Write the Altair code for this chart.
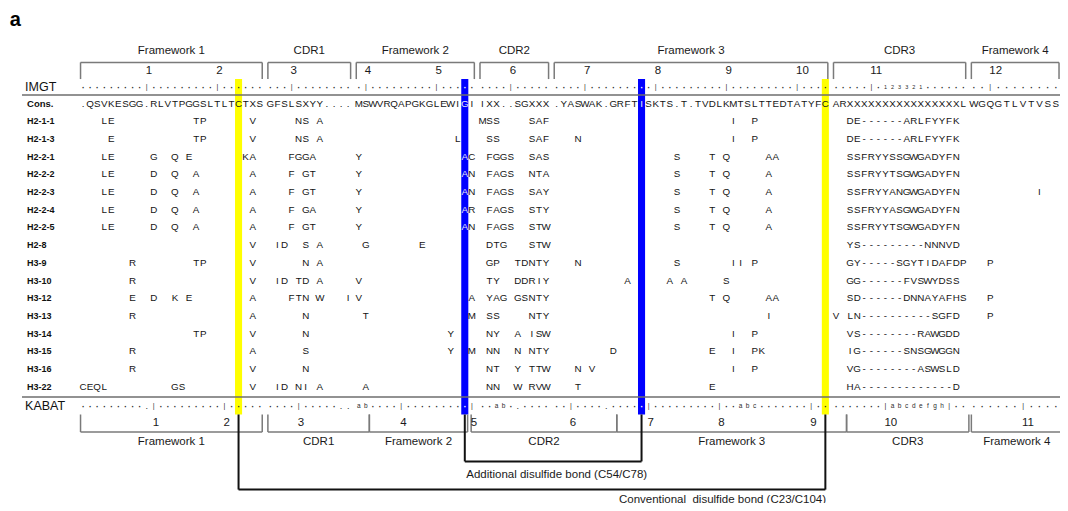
import altair as alt
import pandas as pd

# ---------------- data ----------------
REGION_NAMES = ["Framework 1", "CDR1", "Framework 2", "CDR2", "Framework 3", "CDR3", "Framework 4"]
IMGT_START = [1, 27, 39, 56, 66, 105, 118]

CONS = [".QSVKESGG.RLVTPGGSLTLTCTXS", "GFSLSXYY....", "MSWVRQAPGKGLEWIGI",
        "IXX..SGXXX", ".YASWAK.GRFTISKTS.T.TVDLKMTSLTTEDTATYFC",
        "ARXXXXXXXXXXXXXXXXL", "WGQGTLVTVSS"]

IMGT_MARKS = ["·········|·········|······", "···|········", "·|·········|·····",
              "····|·····", "····|·········|·········|·········|····",
              "·····|·123321······", "··|········"]
KABAT_MARKS = ["·········.|·········|·····", "····|·····..", "ab····|·········|",
               "··ab·.····", "··|····.·····|·········|··abc·······|··",
               "·······|abcdefgh|··", "······|····"]

ROW_NAMES = ["H2-1-1", "H2-1-3", "H2-2-1", "H2-2-2", "H2-2-3", "H2-2-4", "H2-2-5", "H2-8",
             "H3-9", "H3-10", "H3-12", "H3-13", "H3-14", "H3-15", "H3-16", "H3-22"]
# substitutions relative to Cons.: "IMGT position:residues"
ROW_SUBS = [
    "4:LE 17:TP 25:V 31:NS 34:A 56:MSS 63:SAF 91:I 94:P",
    "5:E 17:TP 25:V 31:NS 34:A 53:L 57:SS 63:SAF 69:N 91:I 94:P",
    "4:LE 11:G 14:Q 16:E 24:KA 30:FGGA 39:Y 54:AC 57:FGGS 63:SAS 83:S 88:T 90:Q 96:AA",
    "4:LE 11:D 14:Q 17:A 25:A 30:F 32:GT 39:Y 54:AN 57:FAGS 63:NTA 83:S 88:T 90:Q 96:A",
    "4:LE 11:D 14:Q 17:A 25:A 30:F 32:GT 39:Y 54:AN 57:FAGS 63:SAY 83:S 88:T 90:Q 96:A 126:I",
    "4:LE 11:D 14:Q 17:A 25:A 30:F 32:GA 39:Y 54:AR 57:FAGS 63:STY 83:S 88:T 90:Q 96:A",
    "4:LE 11:D 14:Q 17:A 25:A 30:F 32:GT 39:Y 54:AN 57:FAGS 63:STW 83:S 88:T 90:Q 96:A",
    "25:V 28:ID 32:S 34:A 40:G 48:E 57:DTG 63:STW",
    "8:R 17:TP 25:V 32:N 34:A 57:GP 61:TDNTY 69:N 83:S 91:II 94:P 120:P",
    "8:R 25:V 28:ID 31:TD 34:A 39:V 57:TY 61:DDRIY 76:A 82:A 84:A 90:S",
    "8:E 11:D 14:K 16:E 25:A 30:FTN 34:W 38:IV 55:A 57:YAG 61:GSNTY 88:T 90:Q 96:AA 120:P",
    "8:R 25:A 32:N 40:T 55:M 57:SS 63:NTY 96:I 120:P",
    "17:TP 25:V 32:N 52:Y 57:NY 61:A 63:ISW 91:I 94:P",
    "8:R 25:A 32:S 52:Y 55:M 57:NN 61:N 63:NTY 74:D 88:E 91:I 94:PK",
    "8:R 25:V 32:N 57:NT 61:Y 63:TTW 69:N 71:V 91:I 94:P",
    "1:CEQL 14:GS 25:V 28:ID 31:NI 34:A 40:A 57:NN 61:W 63:RVW 69:T 88:E",
]
ROW_CDR3 = [
    "  DE------ARLFYYFK", "  DE------ARLFYYFK", "  SSFRYYSSGWGADYFN", "  SSFRYYTSGWGADYFN",
    "  SSFRYYANGWGADYFN", "  SSFRYYASGWGADYFN", "  SSFRYYTSGWGADYFN", "  YS---------NNNVD",
    "  GY-----SGYTIDAFDP", "  GG------FVSWYDSS", "  SD------DNNAYAFHS", "V LN----------SGFD",
    "  VS--------RAWGDD", "  IG------SNSGWGGN", "  VG--------ASWSLD", "  HA-------------D",
]
YELLOW_POS = [23, 104]   # conventional disulfide bond
BLUE_POS = [54, 78]      # additional disulfide bond
BOND_LABELS = ["Conventional\u00a0 disulfide bond (C23/C104)", "Additional disulfide bond (C54/C78)"]
KABAT_SPANS = [((0, 0), (0, 25)), ((1, 0), (2, 1)), ((2, 2), (2, 15)), ((2, 16), (4, 8)),
               ((4, 9), (5, 1)), ((5, 2), (5, 18)), ((6, 0), (6, 10))]

# ---------------- layout ----------------
W, H = 1052, 495
PX_COL = 7.07
PX_ROW = 17.71
XS = alt.Scale(domain=[-9.61, -9.61 + W / PX_COL], nice=False, zero=False)
Y0 = -(103.5 - 8) / PX_ROW
YS = alt.Scale(domain=[Y0, Y0 + H / PX_ROW], nice=False, zero=False, reverse=True)
FONT = "Liberation Sans"
DARK = "#141414"
LIGHT = "#e8e8f4"

PITCH = [1, 1, 1, 1, 1, 1, 1.16]
GAP = 0.5
starts = []
_c = 1.0
for _r, _s in enumerate(CONS):
    starts.append(_c)
    _c += (len(_s) - 1) * PITCH[_r] + 1 + GAP


def col(r, i):
    return starts[r] + i * PITCH[r]


def locate(pos):
    if pos >= IMGT_START[6]:
        return 6, pos - IMGT_START[6]
    r = max(k for k in range(5) if IMGT_START[k] <= pos)
    return r, pos - IMGT_START[r]


blue_cols = [col(*locate(p)) for p in BLUE_POS]
yellow_cols = [col(*locate(p)) for p in YELLOW_POS]


def shade(x):
    return LIGHT if any(abs(x - b) < 1e-6 for b in blue_cols) else DARK


# row-unit positions of the decorations
Y_TITLE, Y_HLAB, Y_BTOP, Y_HNUM, Y_BBOT, Y_IMGT, Y_L1 = -4.74, -2.95, -2.32, -1.84, -1.38, -0.95, -0.48
Y_L2, Y_KAB, Y_KTOP, Y_KNUM, Y_KLINE, Y_KLAB = 16.57, 17.08, 17.56, 18.04, 18.55, 19.11
Y_ADD, Y_ADDL, Y_CONV, Y_CONVL = 20.21, 20.98, 21.80, 22.38
X_LABEL = -6.92
SEQ_FS = 9.8

# ---------------- build tables ----------------
seq = []   # residues


def add(lst, x, y, t, fs, c):
    lst.append(dict(x=x, y=y, t=t, fs=fs, c=c))


for r, s in enumerate(CONS):
    for i, ch in enumerate(s):
        x = col(r, i)
        add(seq, x, 0, ch, SEQ_FS, shade(x))

for k, name in enumerate(ROW_NAMES):
    y = k + 1
    for tok in ROW_SUBS[k].split():
        p, res = tok.split(":")
        for j, ch in enumerate(res):
            x = col(*locate(int(p) + j))
            add(seq, x, y, ch, SEQ_FS, shade(x))
    for i, ch in enumerate(ROW_CDR3[k]):
        if ch != " ":
            add(seq, col(5, i), y, ch, SEQ_FS, DARK)

# dotted numbering rows
marks = []
for yy, rows in [(Y_IMGT, IMGT_MARKS), (Y_KAB, KABAT_MARKS)]:
    for r, s in enumerate(rows):
        for i, ch in enumerate(s):
            x = col(r, i)
            if ch == "·":
                fs = 12.5
            elif ch == "|":
                fs = 7
            elif ch == ".":
                fs = 9
            elif ch.isdigit():
                fs = 5.5
            else:
                fs = 6.5
            c = "#ffffff" if shade(x) == LIGHT else "#2a2a2a"
            add(marks, x, yy, ch, fs, c)

# tick numbers
nums = []
n = 0
for r, s in enumerate(IMGT_MARKS):
    for i, ch in enumerate(s):
        if ch == "|":
            n += 1
            add(nums, col(r, i), Y_HNUM, str(n), 11.5, "#1a1a1a")
n = 0
for r, s in enumerate(KABAT_MARKS):
    for i, ch in enumerate(s):
        if ch == "|" and not (i > 0 and s[i - 1].isalpha()):
            n += 1
            add(nums, col(r, i), Y_KNUM, str(n), 11.5, "#1a1a1a")

# region labels and brackets
labels = []
segs = []
for r, s in enumerate(CONS):
    L = col(r, 0) - 0.35
    R = col(r, len(s) - 1) + (0.45 if r == 6 else 0.35)
    add(labels, (L + R) / 2, Y_HLAB, REGION_NAMES[r], 11.5, "#1a1a1a")
    segs += [dict(x=L, x2=R, y=Y_BTOP, y2=Y_BTOP), dict(x=L, x2=L, y=Y_BTOP, y2=Y_BBOT),
             dict(x=R, x2=R, y=Y_BTOP, y2=Y_BBOT)]
KAB_EDGE = [(-0.35, 0.35), (-0.35, 0.5), (-0.5, 0.4), (-0.1, 0.5), (-0.5, 0.5), (-0.5, 0.8), (-0.35, 0.9)]
for r, ((a, b), (e0, e1)) in enumerate(zip(KABAT_SPANS, KAB_EDGE)):
    L = col(*a) + e0
    R = col(*b) + e1
    add(labels, (L + R) / 2, Y_KLAB, REGION_NAMES[r], 11.5, "#1a1a1a")
    segs += [dict(x=L, x2=R, y=Y_KLINE, y2=Y_KLINE), dict(x=L, x2=L, y=Y_KTOP, y2=Y_KLINE),
             dict(x=R, x2=R, y=Y_KTOP, y2=Y_KLINE)]

# disulfide connectors
bonds = []
for (a, b), yb in [(yellow_cols, Y_CONV), (blue_cols, Y_ADD)]:
    bonds += [dict(x=a, x2=a, y=Y_KTOP, y2=yb), dict(x=b, x2=b, y=Y_KTOP, y2=yb),
              dict(x=a, x2=b, y=yb, y2=yb)]
add(labels, (blue_cols[0] + blue_cols[1]) / 2 + 0.5, Y_ADDL, BOND_LABELS[1], 11.5, "#1a1a1a")
bond_conv_label = []
add(bond_conv_label, yellow_cols[1] + 0.1, Y_CONVL, BOND_LABELS[0], 11.5, "#1a1a1a")

# bars
bars = pd.DataFrame(
    [dict(x=c - 0.5, x2=c + 0.5, y=Y_BBOT, y2=Y_KTOP, c="#ffff00") for c in yellow_cols]
    + [dict(x=c - 0.5, x2=c + 0.5, y=Y_BBOT, y2=Y_KTOP, c="#0000ff") for c in blue_cols]
)

# separators
seps = pd.DataFrame([dict(x=-7.63, x2=139.9, y=Y_L1, y2=Y_L1), dict(x=-7.63, x2=139.9, y=Y_L2, y2=Y_L2)])

# left labels
left_bold = []
add(left_bold, X_LABEL, 0, "Cons.", 9.5, "#111111")
for k, name in enumerate(ROW_NAMES):
    add(left_bold, X_LABEL, k + 1, name, 9, "#111111")
left_plain = []
add(left_plain, -7.2, Y_IMGT, "IMGT", 12.5, "#111111")
add(left_plain, -7.2, Y_KAB, "KABAT", 12.5, "#111111")
title = []
add(title, -9.35, Y_TITLE, "a", 20, "#000000")

# ---------------- chart ----------------
X = alt.X("x:Q", scale=XS, axis=None)
Y = alt.Y("y:Q", scale=YS, axis=None)


def text_layer(rows, align="center", weight="normal", dx=0):
    return alt.Chart(pd.DataFrame(rows)).mark_text(
        align=align, baseline="middle", fontWeight=weight, font=FONT, dx=dx
    ).encode(
        x=X, y=Y, text="t:N",
        size=alt.Size("fs:Q", scale=None, legend=None),
        color=alt.Color("c:N", scale=None, legend=None),
    )


def rule_layer(df, color, width):
    return alt.Chart(pd.DataFrame(df)).mark_rule(color=color, strokeWidth=width).encode(
        x=X, x2="x2:Q", y=Y, y2="y2:Q")


bar_layer = alt.Chart(bars).mark_rect().encode(
    x=X, x2="x2:Q", y=Y, y2="y2:Q", color=alt.Color("c:N", scale=None, legend=None))

chart = alt.layer(
    bar_layer,
    rule_layer(seps, "#6e6e6e", 1.5),
    rule_layer(segs, "#7a7a7a", 1.5),
    rule_layer(bonds, "#111111", 2),
    text_layer(marks),
    text_layer(seq),
    text_layer(nums, align="left", dx=-1),
    text_layer(labels),
    text_layer(bond_conv_label, align="right"),
    text_layer(left_bold, align="left", weight="bold"),
    text_layer(left_plain, align="left"),
    text_layer(title, align="left", weight="bold"),
).properties(
    width=W, height=H, padding=0, autosize=alt.AutoSizeParams(type="none"), background="white"
).configure_view(stroke=None)

chart.save("out.html", embed_options={"renderer": "svg", "actions": False})
